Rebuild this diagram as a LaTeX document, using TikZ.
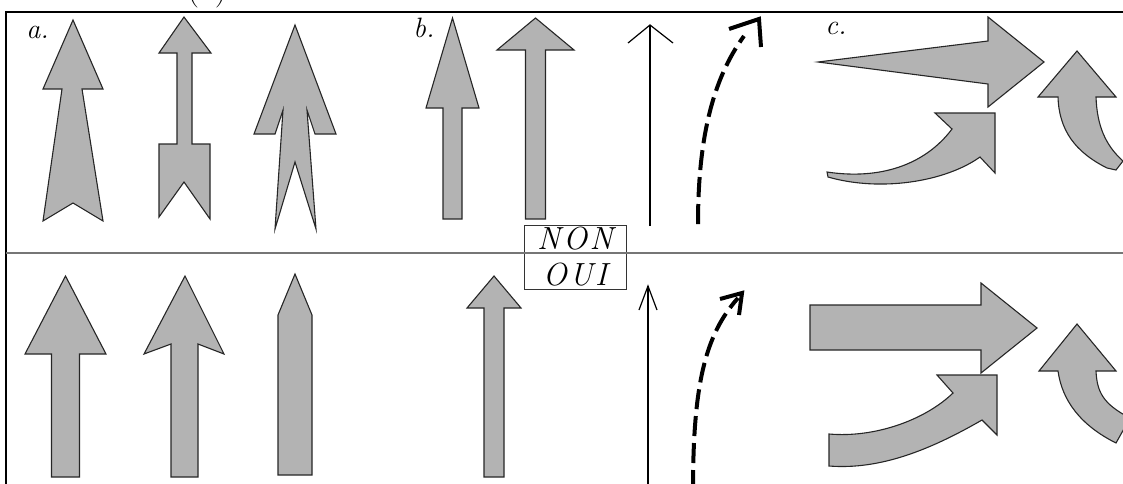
\documentclass[tikz,border=0pt]{standalone}
\usepackage{fontspec}
\usepackage{tikz}
\usetikzlibrary{arrows.meta}
\newfontfamily\verdictfont[LetterSpace=8]{Latin Modern Roman}
\definecolor{glyphgray}{RGB}{179,179,179}
\definecolor{rulegray}{RGB}{118,118,118}
\begin{document}
\begin{tikzpicture}[x=.5pt,y=-.5pt,
  glyph/.style={fill=glyphgray,draw=black!85,line width=.55pt},
  thinline/.style={line width=.6pt},
  dashline/.style={line width=2pt,dash pattern=on 10pt off 3.5pt},
  barb/.style={line width=2pt,line join=miter},
  tag/.style={font=\fontsize{14}{16}\selectfont\itshape,inner sep=0pt,anchor=base west}]
\useasboundingbox (0,0) rectangle (1123,483);
\clip (0,0) rectangle (1123,483);
\coordinate (corner) at (6,12);
\draw[line width=.65pt] (1130,12) -- (corner) -- (6,490);
\node[font=\fontsize{17}{20}\selectfont,anchor=base,inner sep=0pt] (cap) at (207,-1) {(a)};
\node[tag] (ta) at (26,38) {a.};
\node[tag] (tb) at (413,37) {b.};
\node[tag] (tc) at (825,34) {c.};
\draw[glyph] (73,20) -- (103,89) -- (82,89) -- (103,221) -- (73,203) -- (43,221) -- (62,89) -- (43,89) -- cycle;
\draw[glyph] (184,17) -- (211,53) -- (192,53) -- (192,144) -- (210,144) -- (210,219) -- (184,182) -- (159,217) -- (159,144) -- (177,144) -- (177,53) -- (159,53) -- cycle;
\draw[glyph] (295,25) -- (336,134) -- (315,134) -- (307,110) -- (316,229) -- (295,162) -- (275,229) -- (283,110) -- (275,134) -- (254,134) -- cycle;
\foreach \cx/\ty/\hy/\hw/\sw/\by in {452.5/18/108/26.5/9.5/219,535.5/18/50/38.5/10/219,65.5/276/354/40.5/14/477,494/276/308/27/10/477}
  \draw[glyph] (\cx,\ty) -- (\cx+\hw,\hy) -- (\cx+\sw,\hy) -- (\cx+\sw,\by) -- (\cx-\sw,\by) -- (\cx-\sw,\hy) -- (\cx-\hw,\hy) -- cycle;
\draw[glyph] (185,276) -- (224,354) -- (198,344) -- (198,477) -- (171,477) -- (171,344) -- (144,354) -- cycle;
\draw[glyph] (295,274) -- (312,315) -- (312,475) -- (278,475) -- (278,315) -- cycle;
\draw[thinline] (650,226) -- (650,25);
\draw[thinline] (628,43) -- (650,25) -- (673,43);
\draw[thinline] (648,490) -- (648,286);
\draw[thinline] (639,310) -- (648,286) -- (657,310);
\draw[dashline] (698,224) .. controls (698,140) and (712,80) .. (744,36);
\draw[barb] (729,29) -- (759,19) -- (761,47);
\draw[dashline] (693,490) .. controls (693,385) and (705,335) .. (738,298);
\draw[barb] (720,299) -- (742,293) -- (739,315);
\draw[glyph] (818,62) -- (988,41) -- (988,17) -- (1044,62) -- (988,107) -- (988,84) -- cycle;
\draw[glyph] (827,172) .. controls (880,180) and (925,165) .. (952,129) -- (935,113) -- (995,113) -- (995,173) -- (980,157) .. controls (945,182) and (880,192) .. (828,177) -- cycle;
\draw[glyph] (1077,51) -- (1116,97) -- (1096,97) .. controls (1097,125) and (1105,145) .. (1123,161) -- (1116,170) -- (1107,168) .. controls (1075,152) and (1059,130) .. (1058,97) -- (1038,97) -- cycle;
\draw[glyph] (810,305) -- (981,305) -- (981,283) -- (1037,328) -- (981,373) -- (981,350) -- (810,350) -- cycle;
\draw[glyph] (829,434) .. controls (875,438) and (925,420) .. (953,393) -- (937,375) -- (997,375) -- (997,435) -- (982,420) .. controls (930,450) and (880,470) .. (829,466) -- cycle;
\draw[glyph] (1077,324) -- (1116,371) -- (1096,371) .. controls (1097,392) and (1103,404) .. (1130,418) -- (1116,443) .. controls (1080,425) and (1062,400) .. (1058,371) -- (1039,371) -- cycle;
\node[draw=black!80,line width=.5pt,minimum width=51pt,minimum height=32pt,inner ysep=1pt,align=center,font=\verdictfont\fontsize{16}{18}\selectfont\itshape] (verdict) at (575,257) {NON\\OUI};
\draw[rulegray,line width=.8pt] (6,253) -- (1130,253);
\end{tikzpicture}
\end{document}
